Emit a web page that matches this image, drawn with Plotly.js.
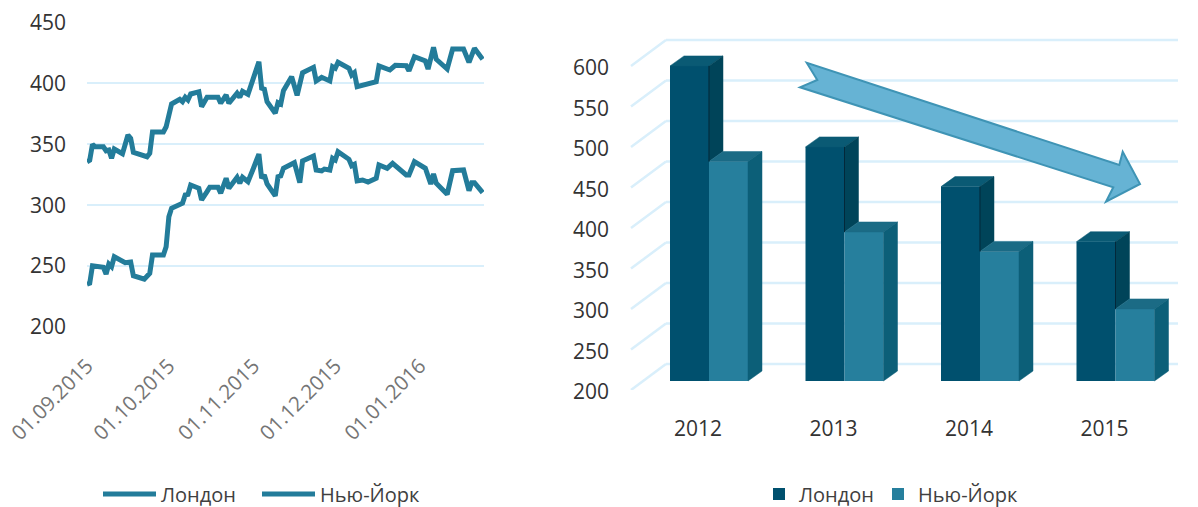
<!DOCTYPE html>
<html><head><meta charset="utf-8">
<script src="https://cdn.plot.ly/plotly-3.0.1.min.js"></script>
<style>html,body{margin:0;padding:0;background:#fff;overflow:hidden;width:1198px;height:507px}</style></head>
<body><div style="width:1198px;height:507px;overflow:hidden"><div id="chart" style="width:1198px;height:540px"></div></div>
<script>
// ---------- left chart data ----------
const upperDays = [0,1,2,3,6,7,8,9,10,13,15,16,17,22,23,24,28,29,31,34,35,36,37,38,41,42,44,48,49,51,52,55,56,57,59,61,63,64,65,66,69,70,71,72,75,77,79,83,84,86,89,90,91,92,96,97,98,99,104,106,107,111,113,117,118,120,124,125,127,128,132,134,138,140,142,145];
const upperVals = [335.7,337,350,348,348,344.7,345.3,338.5,346.1,342.3,357.6,354.9,343.4,339.8,342.6,360.1,360.1,364.4,383.1,386.9,385,388.6,386.4,391.3,393,380.9,388.6,388.6,383.7,390.5,383.7,391.9,388.6,393.5,391,405.5,417.8,396,395.2,385,375.5,384.2,383.1,394,405.5,390.2,408.8,413.2,402,405,402,413.7,412.4,417.3,412.4,406.9,408.8,397.3,400.9,401.4,414.3,411,414.8,414.5,410.4,421.9,418.4,411.8,429.6,419.8,411.8,428.2,428.2,417.3,428.8,419.8];
const lowerDays = [0,1,2,6,7,8,9,10,14,16,17,21,23,24,28,29,30,31,35,36,37,38,41,42,44,45,48,49,51,52,55,56,57,59,61,63,64,65,66,69,70,71,72,76,78,79,83,84,86,87,89,90,91,92,96,97,98,99,101,103,106,107,110,112,117,118,120,124,126,127,128,132,134,138,140,141,142,145];
const lowerVals = [235.1,235.9,250.3,249,243.5,251.7,249.5,257.7,252.8,253.4,242.1,239.2,244.1,259.1,259.1,265.9,290.6,297.5,301.6,308.4,308.9,316.6,313.9,304.3,311.1,314.7,314.7,309.8,322.1,313.9,322.9,318,322.9,319.3,330.3,342,322.1,324.8,317.4,307.6,323.4,324,330.3,334.9,318.5,336.3,340.4,328.9,328.1,329.7,328.9,338.5,337.1,343.9,337.7,332.4,333.6,319.9,320.7,319,322.1,333,330.3,334.4,324.8,324.8,335.7,330.3,317.4,325.6,318,308.9,328.3,328.9,311.9,318.5,318.5,310.3];
const dateTicks = ['2015-09-01','2015-10-01','2015-11-01','2015-12-01','2016-01-01'];
const leftTicks = [200,250,300,350,400,450];

// ---------- right chart data ----------
const years = ['2012','2013','2014','2015'];
const londonVals = [589,489,440,372];
const newYorkVals = [471,384,360,289];
const rightTicks = [200,250,300,350,400,450,500,550,600];
const seriesNames = ['Лондон','Нью-Йорк'];

// ---------- styling / geometry ----------
const W = 1198, H = 540;   // drawing is taller than the 507px window so the legends do not push the margins
const fx = p => p / W, fy = p => 1 - p / H;
const textColor = '#333333';
const font = 'Open Sans, sans-serif';
const gridColor = '#d9effb';
const lineColor = '#237c9a';
const c = {lonFront:'#00506e', lonTop:'#0a5a74', lonSide:'#004459', nyFront:'#267f9d', nyTop:'#1b6b85', nySide:'#0c5f78', edge:'#03283a'};
const toDate = d => new Date(Date.UTC(2015,8,1) + d*864e5).toISOString().slice(0,10);

// pixel scale of the right chart
const pxPerYear = 135.5, x0Px = 698, pxPerUnit = 0.81, baseY = 390;
const xUnit = p => (p - x0Px) / pxPerYear;
const toFrontX = 11/pxPerYear, toFrontY = 9/pxPerUnit;
const bw = 39/pxPerYear, dx = 14/pxPerYear, dy = 10/pxPerUnit;
const wallDx = 35/pxPerYear, wallDy = 26/pxPerUnit;
const base = 200 + toFrontY;

function polys(make){ const X=[],Y=[]; years.forEach((_,i)=>{ make(i).forEach(p=>{X.push(p[0]);Y.push(p[1]);}); X.push(null);Y.push(null); }); return {x:X,y:Y}; }
const L = i => i + toFrontX - bw;
const M = i => i + toFrontX;
const R = i => i + toFrontX + bw;
const lonT = i => londonVals[i] + toFrontY;
const nyT = i => newYorkVals[i] + toFrontY;

function face(p, color){ return {type:'scatter',mode:'lines',x:p.x,y:p.y,xaxis:'x2',yaxis:'y2',fill:'toself',fillcolor:color,line:{color:color,width:0.5},showlegend:false,hoverinfo:'skip'}; }

const traces = [
 {type:'scatter',mode:'lines',name:seriesNames[0],x:upperDays.map(toDate),y:upperVals,line:{color:lineColor,width:5,shape:'linear'},legend:'legend',xaxis:'x',yaxis:'y'},
 {type:'scatter',mode:'lines',name:seriesNames[1],x:lowerDays.map(toDate),y:lowerVals,line:{color:lineColor,width:5,shape:'linear'},legend:'legend2',xaxis:'x',yaxis:'y'},
 {type:'bar',name:seriesNames[0],x:years.map((_,i)=>L(i)+bw/2),y:londonVals.map(v=>v-200),base:base,width:bw,marker:{color:c.lonFront},xaxis:'x2',yaxis:'y2',legend:'legend3'},
 {type:'bar',name:seriesNames[1],x:years.map((_,i)=>M(i)+bw/2),y:newYorkVals.map(v=>v-200),base:base,width:bw,marker:{color:c.nyFront},xaxis:'x2',yaxis:'y2',legend:'legend4'},
 face(polys(i=>[[L(i),lonT(i)],[L(i)+dx,lonT(i)+dy],[M(i)+dx,lonT(i)+dy],[M(i),lonT(i)],[L(i),lonT(i)]]), c.lonTop),
 face(polys(i=>[[M(i),lonT(i)],[M(i)+dx,lonT(i)+dy],[M(i)+dx,nyT(i)+dy],[M(i),nyT(i)],[M(i),lonT(i)]]), c.lonSide),
 face(polys(i=>[[M(i),nyT(i)],[M(i)+dx,nyT(i)+dy],[R(i)+dx,nyT(i)+dy],[R(i),nyT(i)],[M(i),nyT(i)]]), c.nyTop),
 face(polys(i=>[[R(i),nyT(i)],[R(i)+dx,nyT(i)+dy],[R(i)+dx,base+dy],[R(i),base],[R(i),nyT(i)]]), c.nySide),
 {type:'scatter',mode:'lines',x:years.flatMap((_,i)=>[M(i),M(i),null]),y:years.flatMap((_,i)=>[lonT(i),nyT(i),null]),xaxis:'x2',yaxis:'y2',line:{color:c.edge,width:1},showlegend:false,hoverinfo:'skip'}
];

// back wall and side wall grid of the 3D box
const gridShapes = rightTicks.flatMap(v => [
 {type:'line',xref:'x2',yref:'y2',layer:'below',x0:xUnit(631),y0:v,x1:xUnit(631)+wallDx,y1:v+wallDy,line:{color:gridColor,width:2.5}},
 {type:'line',xref:'x2',yref:'y2',layer:'below',x0:xUnit(631)+wallDx,y0:v+wallDy,x1:xUnit(1178),y1:v+wallDy,line:{color:gridColor,width:2.5}}
]);

// decorative trend arrow (page pixels)
const arrowPx = [[806.7,62.7],[817.3,80],[800,87.3],[1113.3,187.3],[1106,201.7],[1140,184],[1122.7,151.7],[1119.3,165]];
const arrowPath = 'M' + arrowPx.map(p => fx(p[0]).toFixed(5)+','+fy(p[1]).toFixed(5)).join('L') + 'Z';

function legendAt(px, swatch){
 return {orientation:'h',x:fx(px),xanchor:'left',y:fy(494),yanchor:'middle',itemwidth:swatch,font:{family:font,size:20,color:'#404040'},bgcolor:'rgba(0,0,0,0)'};
}

const tickFont = {family:font,size:21,color:textColor};
const layout = {
 width:W,height:H,margin:{l:0,r:0,t:0,b:0,pad:0},paper_bgcolor:'#fff',plot_bgcolor:'rgba(0,0,0,0)',
 font:{family:font,color:textColor},showlegend:true,barmode:'overlay',
 xaxis:{type:'date',domain:[fx(87),fx(484)],range:[toDate(0)+' 00:00',toDate(145)+' 12:00'],tickvals:dateTicks,tickformat:'%d.%m.%Y',tickangle:-45,
   tickfont:{family:font,size:20.5,color:'#757575'},showgrid:false,zeroline:false,showline:false,ticks:'',anchor:'y',ticklabelstandoff:22},
 yaxis:{domain:[fy(327),fy(22.5)],range:[200,450],tickvals:leftTicks,tickfont:tickFont,gridcolor:gridColor,gridwidth:2,zeroline:false,showline:false,ticks:'',anchor:'x',ticklabelstandoff:20},
 xaxis2:{domain:[fx(610),1],range:[xUnit(610),xUnit(1198)],tickvals:years.map((_,i)=>i),ticktext:years,tickfont:tickFont,showgrid:false,zeroline:false,showline:false,ticks:'',anchor:'y2',ticklabelstandoff:24},
 yaxis2:{domain:[fy(baseY),fy(baseY-460*pxPerUnit)],range:[200,660],tickvals:rightTicks,tickfont:tickFont,showgrid:false,zeroline:false,showline:false,ticks:'',anchor:'x2',ticklabelshift:2},
 legend:legendAt(98,53),
 legend2:legendAt(257,53),
 legend3:legendAt(759,30),
 legend4:legendAt(878,30),
 shapes:[...gridShapes,{type:'path',xref:'paper',yref:'paper',path:arrowPath,fillcolor:'#66b3d4',line:{color:'#3f94b5',width:2},layer:'above'}]
};
Plotly.newPlot('chart',traces,layout,{displayModeBar:false,staticPlot:true});
</script></body></html>
